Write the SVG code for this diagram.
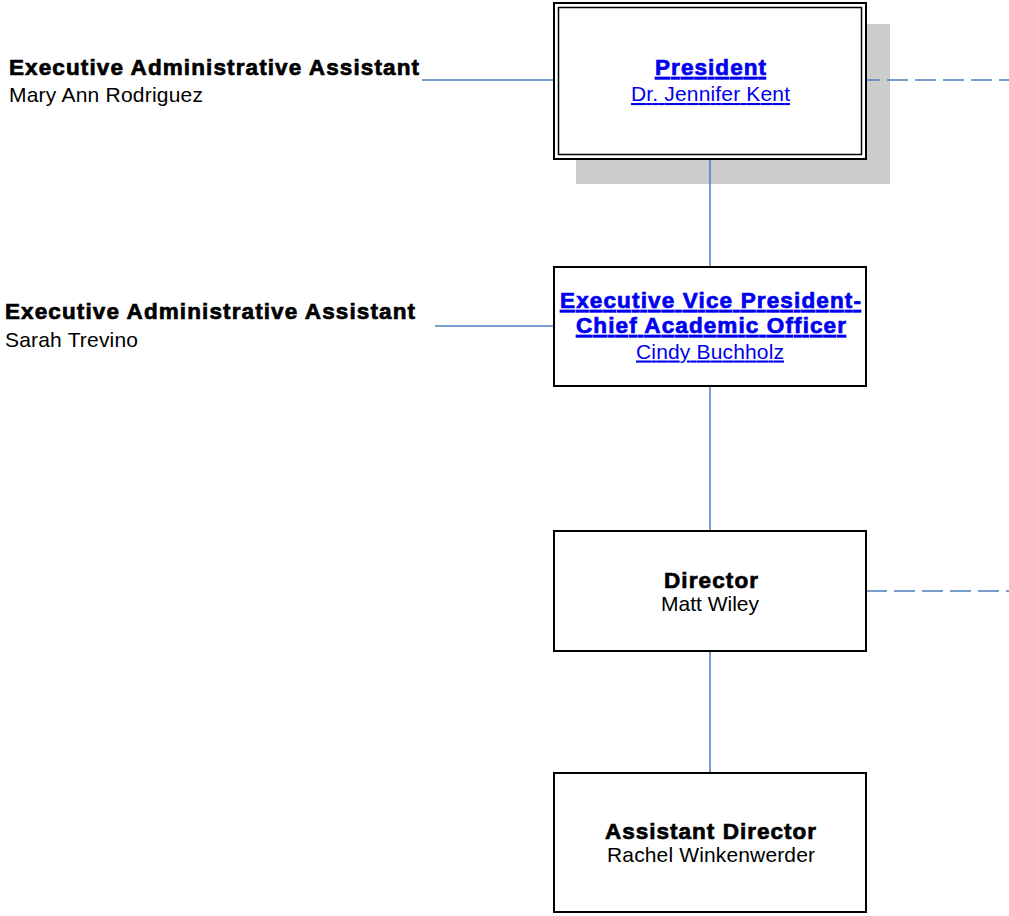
<svg xmlns="http://www.w3.org/2000/svg" width="1009" height="916" viewBox="0 0 1009 916">
<style>
.box{fill:#fff;stroke:#000;stroke-width:2}
.ln{stroke:#4a7ebb;stroke-width:1.5;fill:none}
.dash{stroke-dasharray:21 7}
.t{font-family:"Liberation Sans",Arial,sans-serif;font-size:22.5px;font-weight:bold;stroke:currentColor;stroke-width:0.7}
.n{font-family:"Liberation Sans",Arial,sans-serif;font-size:21px}
.link{fill:#0000ee;color:#0000ee;text-decoration:underline}
.blk{fill:#000;color:#000}
</style>
<rect width="1009" height="916" fill="#fff"/>
<g id="president-shadow">
<rect x="576" y="24" width="314" height="160" fill="#cccccc"/>
</g>
<g id="connectors">
<line class="ln" x1="422" y1="80" x2="554" y2="80"/>
<line class="ln dash" x1="866" y1="80" x2="1009" y2="80" stroke-dashoffset="7"/>
<line class="ln" x1="710" y1="160" x2="710" y2="267"/>
<line class="ln" x1="435" y1="326" x2="554" y2="326"/>
<line class="ln" x1="710" y1="386" x2="710" y2="531"/>
<line class="ln dash" x1="866" y1="591" x2="1009" y2="591"/>
<line class="ln" x1="710" y1="651" x2="710" y2="773"/>
</g>
<g id="assistant1">
<text class="t blk" x="9" y="75" textLength="410" lengthAdjust="spacing">Executive Administrative Assistant</text>
<text class="n blk" x="9" y="101.5" textLength="194" lengthAdjust="spacing">Mary Ann Rodriguez</text>
</g>
<g id="president">
<rect class="box" x="554" y="3" width="312" height="156"/>
<rect x="558.5" y="7.5" width="303" height="147" fill="none" stroke="#000" stroke-width="1.5"/>
<text class="t link" x="710.5" y="75" text-anchor="middle" textLength="111" lengthAdjust="spacing">President</text>
<text class="n link" x="710.5" y="101" text-anchor="middle" textLength="159" lengthAdjust="spacing">Dr. Jennifer Kent</text>
</g>
<g id="assistant2">
<text class="t blk" x="5" y="319" textLength="410" lengthAdjust="spacing">Executive Administrative Assistant</text>
<text class="n blk" x="5" y="346.5" textLength="133" lengthAdjust="spacing">Sarah Trevino</text>
</g>
<g id="evp">
<rect class="box" x="554" y="267" width="312" height="119"/>
<text class="t link" x="710.5" y="308" text-anchor="middle" textLength="301" lengthAdjust="spacing">Executive Vice President-</text>
<text class="t link" x="711" y="333" text-anchor="middle" textLength="270" lengthAdjust="spacing">Chief Academic Officer</text>
<text class="n link" x="710" y="358.5" text-anchor="middle" textLength="148" lengthAdjust="spacing">Cindy Buchholz</text>
</g>
<g id="director">
<rect class="box" x="554" y="531" width="312" height="120"/>
<text class="t blk" x="711" y="587.5" text-anchor="middle" textLength="94" lengthAdjust="spacing">Director</text>
<text class="n blk" x="710" y="611" text-anchor="middle" textLength="98" lengthAdjust="spacing">Matt Wiley</text>
</g>
<g id="assistant-director">
<rect class="box" x="554" y="773" width="312" height="139"/>
<text class="t blk" x="710.5" y="838.5" text-anchor="middle" textLength="211" lengthAdjust="spacing">Assistant Director</text>
<text class="n blk" x="711" y="862" text-anchor="middle" textLength="208" lengthAdjust="spacing">Rachel Winkenwerder</text>
</g>
</svg>
